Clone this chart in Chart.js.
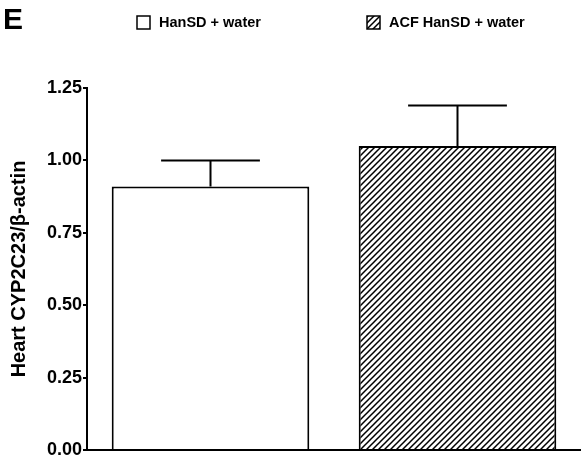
<!DOCTYPE html>
<html><head><meta charset="utf-8">
<script src="https://cdn.jsdelivr.net/npm/chart.js@4/dist/chart.umd.min.js"></script>
<style>html,body{margin:0;padding:0;background:#fff;}canvas{display:block;}</style>
</head><body>
<canvas id="c" width="581" height="470"></canvas>
<script>
const categories = ['HanSD + water', 'ACF HanSD + water'];
const means = [0.91, 1.05];
const errors = [0.09, 0.14];
const yTickValues = [0, 0.25, 0.5, 0.75, 1.0, 1.25];
const panelLabel = 'E';
const yTitle = 'Heart CYP2C23/\u03B2-actin';

const FONT = "'Liberation Sans', Arial, sans-serif";

function makeHatch() {
  const s = 6;
  const c = document.createElement('canvas');
  c.width = s; c.height = s;
  const g = c.getContext('2d');
  g.fillStyle = '#fff'; g.fillRect(0, 0, s, s);
  g.strokeStyle = '#000'; g.lineWidth = 1.5;
  g.beginPath();
  g.moveTo(0, s); g.lineTo(s, 0);
  g.moveTo(-s, s); g.lineTo(s, -s);
  g.moveTo(0, 2 * s); g.lineTo(2 * s, 0);
  g.stroke();
  return document.getElementById('c').getContext('2d').createPattern(c, 'repeat');
}
const hatch = makeHatch();
const fills = ['#ffffff', hatch];

const errorPlugin = {
  id: 'errorBars',
  afterDatasetsDraw(chart) {
    const ctx = chart.ctx;
    const meta = chart.getDatasetMeta(0);
    const y = chart.scales.y;
    ctx.save();
    ctx.strokeStyle = '#000';
    ctx.lineWidth = 2;
    meta.data.forEach((bar, i) => {
      const top = y.getPixelForValue(means[i] + errors[i]);
      const half = bar.width / 4;
      ctx.beginPath();
      ctx.moveTo(bar.x, bar.y);
      ctx.lineTo(bar.x, top);
      ctx.moveTo(bar.x - half, top);
      ctx.lineTo(bar.x + half, top);
      ctx.stroke();
    });
    ctx.restore();
  }
};

const legendPlugin = {
  id: 'customLegend',
  afterDraw(chart) {
    const ctx = chart.ctx;
    ctx.save();
    ctx.fillStyle = '#000';
    ctx.font = 'bold 30px ' + FONT;
    ctx.textBaseline = 'alphabetic';
    ctx.textAlign = 'left';
    ctx.fillText(panelLabel, 3, 29);
    const items = [
      { x: 137, fill: fills[0] },
      { x: 367, fill: fills[1] }
    ];
    ctx.font = 'bold 14.5px ' + FONT;
    ctx.textBaseline = 'middle';
    items.forEach((it, i) => {
      ctx.fillStyle = it.fill;
      ctx.fillRect(it.x, 16, 13, 13);
      ctx.strokeStyle = '#000';
      ctx.lineWidth = 1.5;
      ctx.strokeRect(it.x, 16, 13, 13);
      ctx.fillStyle = '#000';
      ctx.fillText(categories[i], it.x + 22, 23);
    });
    ctx.restore();
  }
};

new Chart(document.getElementById('c'), {
  type: 'bar',
  data: {
    labels: categories,
    datasets: [{
      data: means,
      backgroundColor: fills,
      borderColor: '#000',
      borderWidth: 2,
      barPercentage: 0.8,
      categoryPercentage: 1.0
    }]
  },
  options: {
    responsive: false,
    animation: false,
    devicePixelRatio: 1,
    layout: { padding: { top: 88, bottom: 12, left: 4, right: 0 } },
    plugins: { legend: { display: false }, tooltip: { enabled: false } },
    scales: {
      x: {
        grid: { display: false },
        ticks: { display: false },
        border: { display: true, color: '#000', width: 2 }
      },
      y: {
        min: 0, max: 1.25,
        afterFit(s) { s.width = 83; },
        afterBuildTicks(s) { s.ticks = yTickValues.map(v => ({ value: v })); },
        ticks: {
          color: '#000',
          font: { family: FONT, size: 18, weight: 'bold' },
          padding: 1,
          callback: v => Number(v).toFixed(2)
        },
        grid: { display: true, drawOnChartArea: false, drawTicks: true, tickLength: 4, color: '#000', lineWidth: 2 },
        border: { display: true, color: '#000', width: 2 },
        title: {
          display: true, text: yTitle, color: '#000',
          font: { family: FONT, size: 20, weight: 'bold' },
          padding: { top: 3, bottom: 3 }
        }
      }
    }
  },
  plugins: [errorPlugin, legendPlugin]
});
</script>
</body></html>
